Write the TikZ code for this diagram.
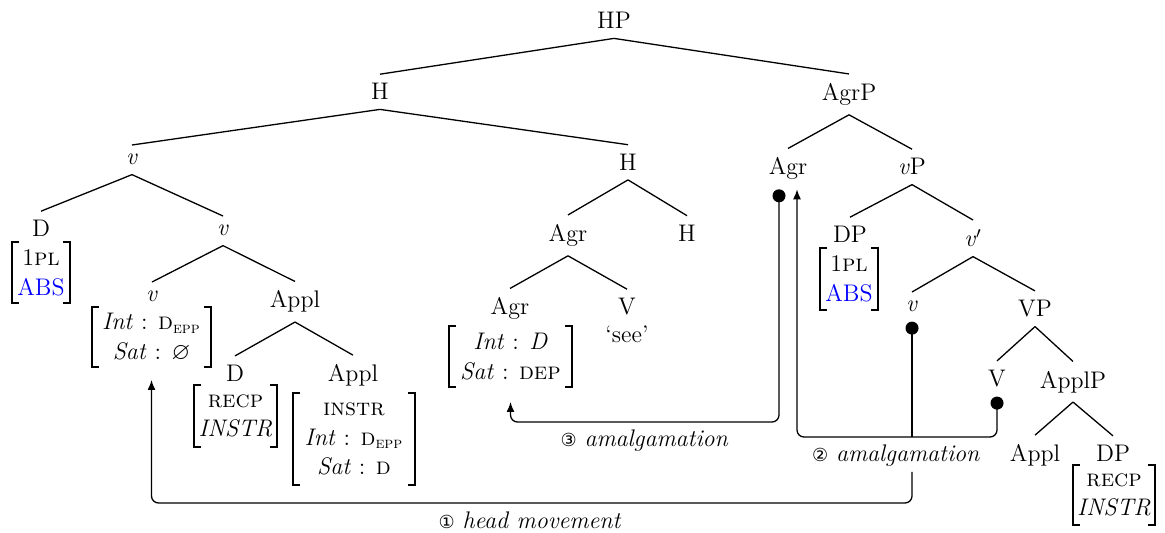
\documentclass[tikz,border=0pt]{standalone}
\usepackage{fontspec}
\usepackage{amssymb}
\usepackage{xcolor}
\usetikzlibrary{arrows.meta,calc}
\newfontfamily\dejavu{DejaVu Sans}
\newcommand\circnum[1]{{\dejavu\fontsize{9}{10}\selectfont #1}}
\newcommand\featbrk[1]{%
  \draw[brk] ([xshift=3.5pt]#1.north west) -- (#1.north west) -- (#1.south west) -- ([xshift=3.5pt]#1.south west);
  \draw[brk] ([xshift=-3.5pt]#1.north east) -- (#1.north east) -- (#1.south east) -- ([xshift=-3.5pt]#1.south east);}
\tikzset{
  lab/.style={inner xsep=2pt, inner ysep=4.5pt, anchor=base},
  feat/.style={align=center, inner sep=0pt, outer sep=0pt, font=\fontsize{12}{14.8}\selectfont},
  edge/.style={line width=0.65pt},
  brk/.style={line width=0.6pt},
  mv/.style={line width=0.65pt, rounded corners=3.5pt},
  tipend/.tip={Latex[length=5pt,width=4pt]},
  tipdot/.tip={Circle[length=6.5pt]}
}
\begin{document}
\begin{tikzpicture}[x=0.5pt,y=-0.5pt, font=\fontsize{12}{14.8}\selectfont]
\useasboundingbox (0,0) rectangle (1165,533);

% tree labels
\node[lab] (HP) at (614,29) {HP};
\node[lab] (H1) at (380,100) {H};
\node[lab] (AgrP) at (849,100.5) {AgrP};
\node[lab] (v1) at (132,165) {\textit{v}};
\node[lab] (H2) at (628,170.5) {H};
\node[lab] (Agr1) at (788,175) {Agr};
\node[lab] (vP) at (912,175) {\textit{v}P};
\node[lab] (D1) at (41,237) {D};
\node[lab] (v2) at (223,236) {\textit{v}};
\node[lab] (Agr2) at (568,241.5) {Agr};
\node[lab] (H3) at (687,241.5) {H};
\node[lab] (DP1) at (850,243) {DP};
\node[lab] (vbar) at (973,247) {\textit{v}$'$};
\node[lab] (v3) at (152,302) {\textit{v}};
\node[lab] (Appl1) at (295,308) {Appl};
\node[lab] (Agr3) at (510,315) {Agr};
\node[lab] (V1) at (627,315) {V};
\node[lab] (see) at (627,343) {`see'};
\node[lab] (v4) at (912,312) {\textit{v}};
\node[lab] (VP) at (1035,316.7) {VP};
\node[lab] (D2) at (235,381.7) {D};
\node[lab] (Appl2) at (353,381.7) {Appl};
\node[lab] (V2) at (997,386.7) {V};
\node[lab] (ApplP) at (1073,388) {ApplP};
\node[lab] (Appl3) at (1035,461.7) {Appl};
\node[lab] (DP2) at (1113,461.7) {DP};

% feature matrices
\node[feat, minimum width=29pt, minimum height=30.5pt] (fD1) at (41,272.5) {1\textsc{pl}\\\textcolor{blue}{ABS}};
\node[feat, minimum width=59.5pt, minimum height=30pt] (fv) at (151.5,337) {\textit{Int} : \textsc{d}\textsubscript{\textsc{epp}}\\\textit{Sat} : $\varnothing$};
\node[feat, minimum width=41.5pt, minimum height=31pt] (fD2) at (235.5,416) {\textsc{recp}\\\textit{INSTR}};
\node[feat, minimum width=61pt, minimum height=46pt] (fAppl) at (354,439) {\textsc{instr}\\\textit{Int} : \textsc{d}\textsubscript{\textsc{epp}}\\\textit{Sat} : \textsc{d}};
\node[feat, minimum width=61.5pt, minimum height=30.5pt] (fAgr) at (510.5,356.5) {\textit{Int} : \textit{D}\\\textit{Sat} : \textsc{dep}};
\node[feat, minimum width=29pt, minimum height=31pt] (fDP1) at (849,279) {1\textsc{pl}\\\textcolor{blue}{ABS}};
\node[feat, minimum width=41pt, minimum height=30pt] (fDP2) at (1114,495) {\textsc{recp}\\\textit{INSTR}};
\featbrk{fD1}
\featbrk{fv}
\featbrk{fD2}
\featbrk{fAppl}
\featbrk{fAgr}
\featbrk{fDP1}
\featbrk{fDP2}

% tree edges
\foreach \p/\c in {HP/H1, HP/AgrP, H1/v1, H1/H2, AgrP/Agr1, AgrP/vP, v1/D1, v1/v2,
  H2/Agr2, H2/H3, vP/DP1, vP/vbar, v2/v3, v2/Appl1, Agr2/Agr3, Agr2/V1,
  vbar/v4, vbar/VP, Appl1/D2, Appl1/Appl2, VP/V2, VP/ApplP, ApplP/Appl3, ApplP/DP2}
  \draw[edge] (\p.south) -- (\c.north);

% movement paths
\coordinate (c3) at (510,422);
\coordinate (c2) at (797,437);
\coordinate (c1) at (152,503);
\coordinate (agrout) at ([xshift=-4.5pt]Agr1.south);
\coordinate (agrin) at ([xshift=4.5pt]Agr1.south);
\coordinate (t3) at ([yshift=-7.5pt]fAgr.south);
\coordinate (t1) at ([yshift=-6.5pt]fv.south);

\draw[mv, tipdot-tipend] (agrout) -- (agrout |- c3) -- (t3 |- c3) -- (t3);
\node[lab] (lab3) at (644.5,446.7) {\circnum{③} \textit{amalgamation}};

\draw[mv, tipdot-tipend] (V2.south) -- (V2.south |- c2) -- (agrin |- c2) -- (agrin);
\draw[mv, tipdot-] (v4.south) -- (v4.south |- c2);
\node[lab, inner ysep=2.8pt] (lab2) at (896,461) {\circnum{②} \textit{amalgamation}};

\draw[mv, -tipend] (lab2.south -| v4.south) -- (v4.south |- c1) -- (t1 |- c1) -- (t1);
\node[lab] (lab1) at (530,528) {\circnum{①} \textit{head movement}};
\end{tikzpicture}
\end{document}
